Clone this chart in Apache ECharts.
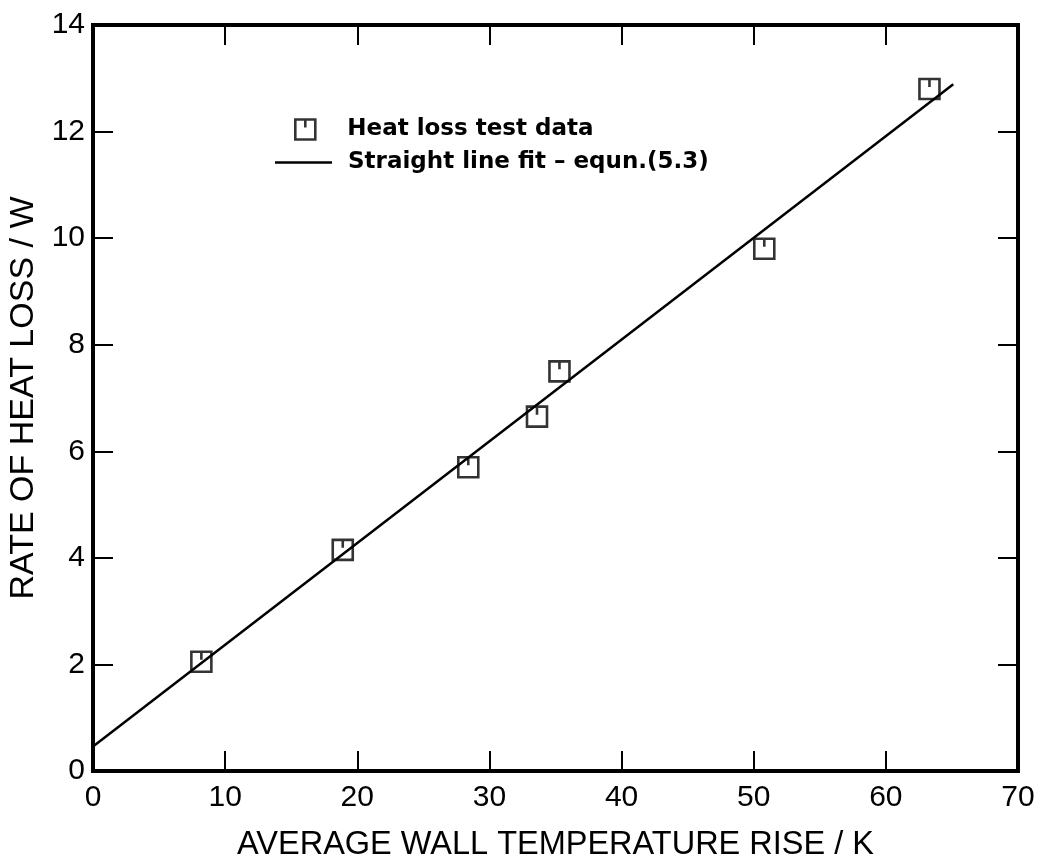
<!DOCTYPE html>
<html><head><meta charset="utf-8">
<script src="https://cdn.jsdelivr.net/npm/echarts@6/dist/echarts.min.js"></script>
<style>html,body{margin:0;padding:0;background:#fff}#c{width:1042px;height:863px}</style>
</head><body><div id="c"></div>
<script>
const tempRise = [8.2, 18.9, 28.4, 33.6, 35.3, 50.8, 63.3];
const heatLoss = [2.05, 4.15, 5.7, 6.65, 7.5, 9.8, 12.8];
const fitX = [0, 65.1];
const fitY = [0.46, 12.89];
const xTicks = [0, 10, 20, 30, 40, 50, 60, 70];
const yTicks = [0, 2, 4, 6, 8, 10, 12, 14];
const seriesNames = ['Heat loss test data', 'Straight line fit \u2013 equn.(5.3)'];
const xTitle = 'AVERAGE WALL TEMPERATURE RISE / K';
const yTitle = 'RATE OF HEAT LOSS / W';

const FONT = '"Liberation Sans", Roboto, sans-serif';
const TFONT = '"DejaVu Sans", "Liberation Sans", sans-serif';
const marker = 'path://M0,0 L10,0 L10,10 L0,10 Z M5,0 L5,4';

const chart = echarts.init(document.getElementById('c'), null, {renderer: 'canvas'});
const tickStyle = {show: true, inside: true, length: 20, lineStyle: {color: '#000', width: 2}};
chart.setOption({
  backgroundColor: '#fff',
  animation: false,
  grid: {left: 93, right: 24, top: 25, bottom: 92, containLabel: false, outerBoundsMode: 'none',
         show: true, borderColor: '#000', borderWidth: 4, backgroundColor: 'transparent'},
  legend: [
    {data: [{name: seriesNames[0], icon: marker}], left: 294, top: 118, padding: 0, itemWidth: 20, itemHeight: 20,
     itemStyle: {color: 'rgba(255,255,255,0)', borderColor: '#000', borderWidth: 2.6},
     textStyle: {fontFamily: TFONT, fontSize: 23, fontWeight: 'bold', color: '#000', padding: [0, 0, 0, 27]}},
    {data: [{name: seriesNames[1], icon: 'rect'}], left: 275, top: 151, padding: 0, itemWidth: 57, itemHeight: 2.5,
     itemStyle: {color: '#000', borderWidth: 0},
     textStyle: {fontFamily: TFONT, fontSize: 23, fontWeight: 'bold', color: '#000', padding: [0, 0, 0, 11]}}
  ],
  xAxis: [
    {type: 'value', min: xTicks[0], max: xTicks[xTicks.length - 1], interval: 10, position: 'bottom',
     name: xTitle, nameLocation: 'middle', nameGap: 58,
     nameTextStyle: {fontFamily: FONT, fontSize: 32.5, color: '#000'},
     axisLine: {show: true, onZero: false, lineStyle: {color: '#000', width: 4}},
     axisTick: tickStyle, splitLine: {show: false},
     axisLabel: {fontFamily: FONT, fontSize: 30, color: '#000', margin: 12}},
    {type: 'value', min: xTicks[0], max: xTicks[xTicks.length - 1], interval: 10, position: 'top',
     axisLine: {show: true, onZero: false, lineStyle: {color: '#000', width: 4}},
     axisTick: tickStyle, splitLine: {show: false}, axisLabel: {show: false}}
  ],
  yAxis: [
    {type: 'value', min: yTicks[0], max: yTicks[yTicks.length - 1], interval: 2, position: 'left',
     name: yTitle, nameLocation: 'middle', nameGap: 50, nameRotate: 90,
     nameTextStyle: {fontFamily: FONT, fontSize: 34, color: '#000'},
     axisLine: {show: true, onZero: false, lineStyle: {color: '#000', width: 4}},
     axisTick: tickStyle, splitLine: {show: false},
     axisLabel: {fontFamily: FONT, fontSize: 30, color: '#000', margin: 8}},
    {type: 'value', min: yTicks[0], max: yTicks[yTicks.length - 1], interval: 2, position: 'right',
     axisLine: {show: true, onZero: false, lineStyle: {color: '#000', width: 4}},
     axisTick: tickStyle, splitLine: {show: false}, axisLabel: {show: false}}
  ],
  series: [
    {name: seriesNames[0], type: 'scatter', symbol: marker, symbolSize: 20, z: 3,
     itemStyle: {color: 'rgba(255,255,255,0)', borderColor: '#000', borderWidth: 2.6},
     data: tempRise.map((x, i) => [x, heatLoss[i]])},
    {name: seriesNames[1], type: 'line', showSymbol: false, symbol: 'none', z: 2,
     lineStyle: {color: '#000', width: 2.5}, itemStyle: {color: '#000'},
     data: fitX.map((x, i) => [x, fitY[i]])}
  ]
});
</script></body></html>
